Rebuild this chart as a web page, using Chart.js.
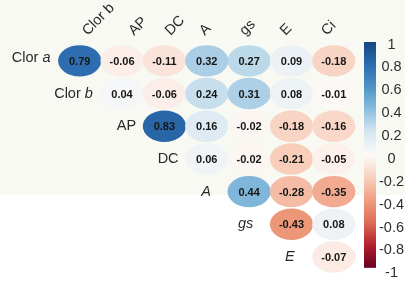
<!DOCTYPE html>
<html>
<head>
<meta charset="utf-8">
<script src="https://cdn.jsdelivr.net/npm/chart.js@4"></script>
<style>
  html, body { margin: 0; padding: 0; background: #ffffff; }
  #wrap { width: 405px; height: 306px; }
</style>
</head>
<body>
<div id="wrap"><canvas id="corrChart" width="405" height="306"></canvas></div>
<script>
// Column and row variables (upper triangle, diagonal shifted one column right)
const colVars = ['Clor b', 'AP', 'DC', 'A', 'gs', 'E', 'Ci'];
const rowVars = ['Clor a', 'Clor b', 'AP', 'DC', 'A', 'gs', 'E'];

// Correlation values per row, starting at the column with the same index as the row
const rowClorA = [0.79, -0.06, -0.11, 0.32, 0.27, 0.09, -0.18];
const rowClorB = [0.04, -0.06, 0.24, 0.31, 0.08, -0.01];
const rowAP = [0.83, 0.16, -0.02, -0.18, -0.16];
const rowDC = [0.06, -0.02, -0.21, -0.05];
const rowA = [0.44, -0.28, -0.35];
const rowGs = [-0.43, 0.08];
const rowE = [-0.07];

// Colour bar ticks
const barTicks = [1, 0.8, 0.6, 0.4, 0.2, 0, -0.2, -0.4, -0.6, -0.8, -1];

// Colour ramp (value -> colour), red for negative, blue for positive
const rampStops = [
    [-1.0, [103, 0, 31]],
    [-0.8, [180, 30, 45]],
    [-0.6, [220, 108, 84]],
    [-0.4, [240, 158, 128]],
    [-0.2, [248, 208, 190]],
    [0.0, [252, 250, 248]],
    [0.2, [214, 231, 241]],
    [0.4, [140, 190, 222]],
    [0.6, [78, 148, 198]],
    [0.8, [44, 108, 175]],
    [1.0, [22, 70, 128]]
];

function rampColor(v) {
    for (let i = 0; i < rampStops.length - 1; i++) {
        const [v0, c0] = rampStops[i];
        const [v1, c1] = rampStops[i + 1];
        if (v >= v0 && v <= v1) {
            const t = (v - v0) / (v1 - v0);
            const c = c0.map((x, k) => Math.round(x + (c1[k] - x) * t));
            return `rgb(${c[0]}, ${c[1]}, ${c[2]})`;
        }
    }
    return 'rgb(255,255,255)';
}

// Build scatter points from the row arrays
const rows = [rowClorA, rowClorB, rowAP, rowDC, rowA, rowGs, rowE];
const points = [];
rows.forEach((vals, r) => {
    vals.forEach((v, k) => points.push({ x: r + k, y: r, v: v }));
});

// Label styling (italic parts kept apart from the label text)
const rowItalic = [false, false, false, false, true, true, true];
const rowGap = [8, 8, 7, 7, 17, 17, 18];
const rowDy = [-3, 0, 0, 0, 0, 0, 0];
const topDx = [8, 12, 6, -2, -4, -6, -7];
const labelFont = '"Liberation Sans", Arial, sans-serif';

function drawLabel(ctx, text, x, y, italic) {
    // "Clor a" / "Clor b": only the letter is italic
    if (text.startsWith('Clor ')) {
        const head = 'Clor ';
        const tail = text.slice(5);
        ctx.font = `14.5px ${labelFont}`;
        const wHead = ctx.measureText(head).width;
        ctx.font = `italic 14.5px ${labelFont}`;
        const wTail = ctx.measureText(tail).width;
        const start = x - wHead - wTail;
        ctx.textAlign = 'left';
        ctx.font = `14.5px ${labelFont}`;
        ctx.fillText(head, start, y);
        ctx.font = `italic 14.5px ${labelFont}`;
        ctx.fillText(tail, start + wHead, y);
        return;
    }
    ctx.textAlign = 'right';
    ctx.font = `${italic ? 'italic ' : ''}14.5px ${labelFont}`;
    ctx.fillText(text, x, y);
}

const corrPlugin = {
    id: 'corrPlugin',
    beforeDraw(chart) {
        const ctx = chart.ctx;
        ctx.save();
        // faint tinted backdrop of the source figure
        ctx.fillStyle = '#f8f9f3';
        ctx.fillRect(0, 0, chart.width, 195);
        ctx.restore();
    },
    afterDatasetsDraw(chart) {
        const ctx = chart.ctx;
        const xs = chart.scales.x;
        const ys = chart.scales.y;
        const cellW = Math.abs(xs.getPixelForValue(1) - xs.getPixelForValue(0));
        const cellH = Math.abs(ys.getPixelForValue(1) - ys.getPixelForValue(0));
        const meta = chart.getDatasetMeta(0);
        ctx.save();
        meta.data.forEach((el, i) => {
            const p = points[i];
            ctx.beginPath();
            ctx.ellipse(el.x, el.y, cellW * 0.51, cellH * 0.48, 0, 0, Math.PI * 2);
            ctx.fillStyle = rampColor(p.v);
            ctx.fill();
        });
        ctx.fillStyle = '#161616';
        ctx.font = `bold 11px ${labelFont}`;
        ctx.textAlign = 'center';
        ctx.textBaseline = 'middle';
        meta.data.forEach((el, i) => {
            ctx.fillText(points[i].v.toFixed(2), el.x, el.y + 1);
        });

        // row labels, left of the first cell of each row
        ctx.fillStyle = '#2a2a2a';
        ctx.textBaseline = 'middle';
        rowVars.forEach((name, r) => {
            const x = xs.getPixelForValue(r) - cellW / 2 - rowGap[r];
            const y = ys.getPixelForValue(r) + rowDy[r];
            drawLabel(ctx, name, x, y, rowItalic[r]);
        });

        // rotated column labels on top
        ctx.textBaseline = 'alphabetic';
        ctx.textAlign = 'left';
        ctx.font = `14.5px ${labelFont}`;
        colVars.forEach((name, c) => {
            ctx.save();
            ctx.translate(xs.getPixelForValue(c) + topDx[c], chart.chartArea.top - 8.5);
            ctx.rotate(-Math.PI / 4);
            ctx.fillText(name, 0, 0);
            ctx.restore();
        });

        // colour bar along the right-hand axis
        const bar = chart.scales.bar;
        const top = bar.getPixelForValue(1) - 2.5;
        const bottom = bar.getPixelForValue(-1) - 5.5;
        const grad = ctx.createLinearGradient(0, top, 0, bottom);
        rampStops.forEach(([v, c]) => {
            grad.addColorStop((1 - v) / 2, `rgb(${c[0]}, ${c[1]}, ${c[2]})`);
        });
        ctx.fillStyle = grad;
        ctx.fillRect(bar.left + 9, top, 12, bottom - top);
        ctx.restore();
    }
};

const canvas = document.getElementById('corrChart');
const ctx = canvas.getContext('2d');
new Chart(ctx, {
    type: 'scatter',
    data: {
        datasets: [{
            data: points,
            pointRadius: 0,
            pointHoverRadius: 0
        }]
    },
    options: {
        responsive: false,
        animation: false,
        events: [],
        layout: {
            padding: { left: 58.5, top: 44.5, right: 0, bottom: 2.5 }
        },
        plugins: {
            legend: { display: false },
            tooltip: { enabled: false }
        },
        scales: {
            x: {
                type: 'linear',
                min: -0.5,
                max: 6.5,
                display: false
            },
            y: {
                type: 'linear',
                min: -0.5,
                max: 6.5,
                reverse: true,
                display: false
            },
            bar: {
                type: 'linear',
                position: 'right',
                min: -1,
                max: 1,
                grid: { display: false, drawTicks: false },
                border: { display: false },
                afterBuildTicks: (scale) => {
                    scale.ticks = barTicks.map(v => ({ value: v }));
                },
                afterFit: (scale) => {
                    scale.width = 50;
                },
                ticks: {
                    padding: 24,
                    crossAlign: 'center',
                    color: '#2e2e2e',
                    font: { family: labelFont, size: 14.5 },
                    callback: (v) => String(v)
                }
            }
        }
    },
    plugins: [corrPlugin]
});
</script>
</body>
</html>
